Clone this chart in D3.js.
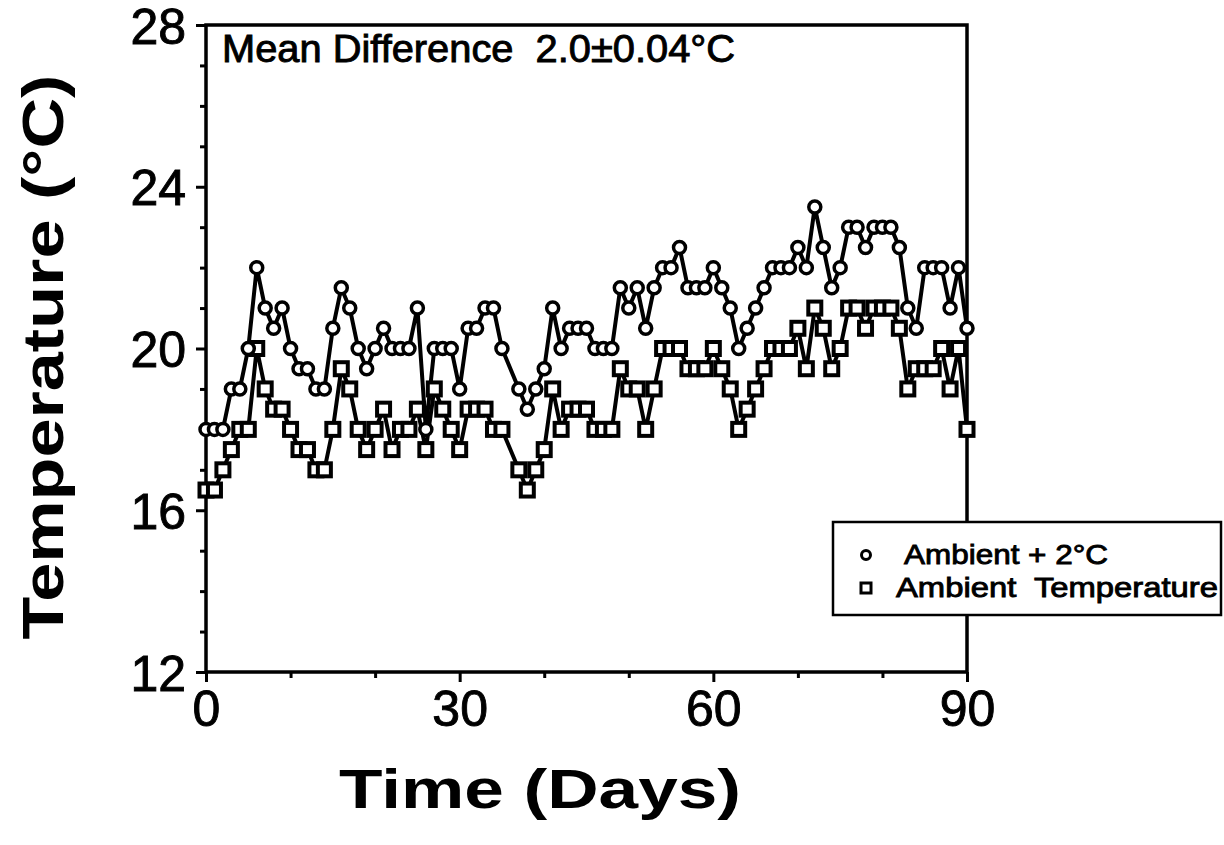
<!DOCTYPE html>
<html>
<head>
<meta charset="utf-8">
<script src="https://cdn.jsdelivr.net/npm/d3@7"></script>
<style>
  body { margin: 0; background: #fff; }
  svg { font-family: "Liberation Sans", Arial, sans-serif; }
  .heavy { stroke: #000; stroke-width: 0.9px; }
</style>
</head>
<body>
<div id="chart"></div>
<script>
// values (day 36 has no marker)
var days = [0,1,2,3,4,5,6,7,8,9,10,11,12,13,14,15,16,17,18,19,20,21,22,23,24,25,26,27,28,29,
            30,31,32,33,34,35,37,38,39,40,41,42,43,44,45,46,47,48,49,50,51,52,53,54,55,56,57,58,59,
            60,61,62,63,64,65,66,67,68,69,70,71,72,73,74,75,76,77,78,79,80,81,82,83,84,85,86,87,88,89,90];
var warmed = [18,18,18,19,19,20,22,21,20.5,21,
              20,19.5,19.5,19,19,20.5,21.5,21,20,19.5,
              20,20.5,20,20,20,21,18,20,20,20,
              19,20.5,20.5,21,21,20,
              19,18.5,19,
              19.5,21,20,20.5,20.5,20.5,20,20,20,21.5,
              21,21.5,20.5,21.5,22,22,22.5,21.5,21.5,21.5,
              22,21.5,21,20,20.5,21,21.5,22,22,22,
              22.5,22,23.5,22.5,21.5,22,23,23,22.5,23,
              23,23,22.5,21,20.5,22,22,22,21,22,20.5];
var ambient = [16.5,16.5,17,17.5,18,18,20,19,18.5,18.5,
               18,17.5,17.5,17,17,18,19.5,19,18,17.5,
               18,18.5,17.5,18,18,18.5,17.5,19,18.5,18,
               17.5,18.5,18.5,18.5,18,18,
               17,16.5,17,
               17.5,19,18,18.5,18.5,18.5,18,18,18,19.5,
               19,19,18,19,20,20,20,19.5,19.5,19.5,
               20,19.5,19,18,18.5,19,19.5,20,20,20,
               20.5,19.5,21,20.5,19.5,20,21,21,20.5,21,
               21,21,20.5,19,19.5,19.5,19.5,20,19,20,18];
var xTicks = [0, 30, 60, 90];
var xMinor = [10, 20, 40, 50, 70, 80];
var yTicks = [12, 16, 20, 24, 28];
var yMinor = [13,14,15,17,18,19,21,22,23,25,26,27];

var margin = {top: 25, right: 257, bottom: 173, left: 206},
    width = 1224 - margin.left - margin.right,
    height = 845 - margin.top - margin.bottom;

var svg = d3.select("#chart")
  .append("svg")
    .attr("width", 1224)
    .attr("height", 845)
  .append("g")
    .attr("transform", "translate(" + margin.left + "," + margin.top + ")");

var x = d3.scaleLinear().domain([0, 90]).range([0, width]);
var y = d3.scaleLinear().domain([12, 28]).range([height, 0]);

// axes: major ticks with labels, minor ticks without
var xAxis = svg.append("g")
  .attr("transform", "translate(0," + height + ")")
  .call(d3.axisBottom(x).tickValues(xTicks).tickSize(10).tickPadding(8).tickFormat(d3.format("d")));
var xAxisMinor = svg.append("g")
  .attr("transform", "translate(0," + height + ")")
  .call(d3.axisBottom(x).tickValues(xMinor).tickSize(6).tickFormat(""));
var yAxis = svg.append("g")
  .call(d3.axisLeft(y).tickValues(yTicks).tickSize(10).tickPadding(10).tickFormat(d3.format("d")));
var yAxisMinor = svg.append("g")
  .call(d3.axisLeft(y).tickValues(yMinor).tickSize(6).tickFormat(""));

[xAxis, xAxisMinor, yAxis, yAxisMinor].forEach(function(a){
  a.select(".domain").remove();
  a.selectAll(".tick line").attr("stroke", "#000").attr("stroke-width", 3);
  a.selectAll(".tick text").attr("fill", "#000").attr("class", "heavy").style("font-size", "50px");
});
yAxis.selectAll(".tick text").attr("dy", "0.36em");

// frame
svg.append("rect")
  .attr("width", width)
  .attr("height", height)
  .attr("fill", "none")
  .attr("stroke", "#000")
  .attr("stroke-width", 3.5);

var ambData = days.map(function(d, i){ return {day: d, t: ambient[i]}; });
var warmData = days.map(function(d, i){ return {day: d, t: warmed[i]}; });

var line = d3.line()
  .x(function(d) { return x(d.day); })
  .y(function(d) { return y(d.t); });

svg.append("path")
  .datum(ambData)
  .attr("fill", "none")
  .attr("stroke", "#000")
  .attr("stroke-width", 4)
  .attr("d", line);

svg.append("path")
  .datum(warmData)
  .attr("fill", "none")
  .attr("stroke", "#000")
  .attr("stroke-width", 4)
  .attr("d", line);

svg.selectAll(".sq")
  .data(ambData)
  .enter().append("rect")
    .attr("x", function(d) { return x(d.day) - 6.5; })
    .attr("y", function(d) { return y(d.t) - 6.5; })
    .attr("width", 13)
    .attr("height", 13)
    .attr("fill", "#fff")
    .attr("stroke", "#000")
    .attr("stroke-width", 4);

svg.selectAll(".dot")
  .data(warmData)
  .enter().append("circle")
    .attr("cx", function(d) { return x(d.day); })
    .attr("cy", function(d) { return y(d.t); })
    .attr("r", 6)
    .attr("fill", "#fff")
    .attr("stroke", "#000")
    .attr("stroke-width", 3.5);

// annotation
svg.append("text")
  .attr("x", 16)
  .attr("y", 37)
  .attr("class", "heavy")
  .attr("textLength", 513)
  .attr("lengthAdjust", "spacingAndGlyphs")
  .style("font-size", "38px")
  .text("Mean Difference\u00a0 2.0\u00b10.04\u00b0C");

// axis titles
svg.append("text")
  .attr("x", 540 - margin.left)
  .attr("y", 808 - margin.top)
  .attr("text-anchor", "middle")
  .attr("textLength", 402)
  .attr("lengthAdjust", "spacingAndGlyphs")
  .style("font-size", "56px")
  .style("font-weight", "bold")
  .text("Time (Days)");

svg.append("text")
  .attr("transform", "translate(" + (63 - margin.left) + "," + (357 - margin.top) + ") rotate(-90)")
  .attr("text-anchor", "middle")
  .attr("textLength", 565)
  .attr("lengthAdjust", "spacingAndGlyphs")
  .style("font-size", "58px")
  .style("font-weight", "bold")
  .text("Temperature (\u00b0C)");

// legend
var legend = svg.append("g")
  .attr("transform", "translate(" + (833 - margin.left) + "," + (522 - margin.top) + ")");
legend.append("rect")
  .attr("width", 388)
  .attr("height", 93)
  .attr("fill", "#fff")
  .attr("stroke", "#000")
  .attr("stroke-width", 2.5);
legend.append("circle")
  .attr("cx", 33).attr("cy", 33).attr("r", 4.5)
  .attr("fill", "#fff").attr("stroke", "#000").attr("stroke-width", 3);
legend.append("rect")
  .attr("x", 28).attr("y", 61).attr("width", 10).attr("height", 10)
  .attr("fill", "#fff").attr("stroke", "#000").attr("stroke-width", 3);
legend.append("text")
  .attr("x", 71).attr("y", 42)
  .attr("class", "heavy")
  .attr("textLength", 204)
  .attr("lengthAdjust", "spacingAndGlyphs")
  .style("font-size", "28px")
  .text("Ambient + 2\u00b0C");
legend.append("text")
  .attr("x", 63).attr("y", 75)
  .attr("class", "heavy")
  .attr("textLength", 322)
  .attr("lengthAdjust", "spacingAndGlyphs")
  .style("font-size", "28px")
  .text("Ambient\u00a0 Temperature");
</script>
</body>
</html>
